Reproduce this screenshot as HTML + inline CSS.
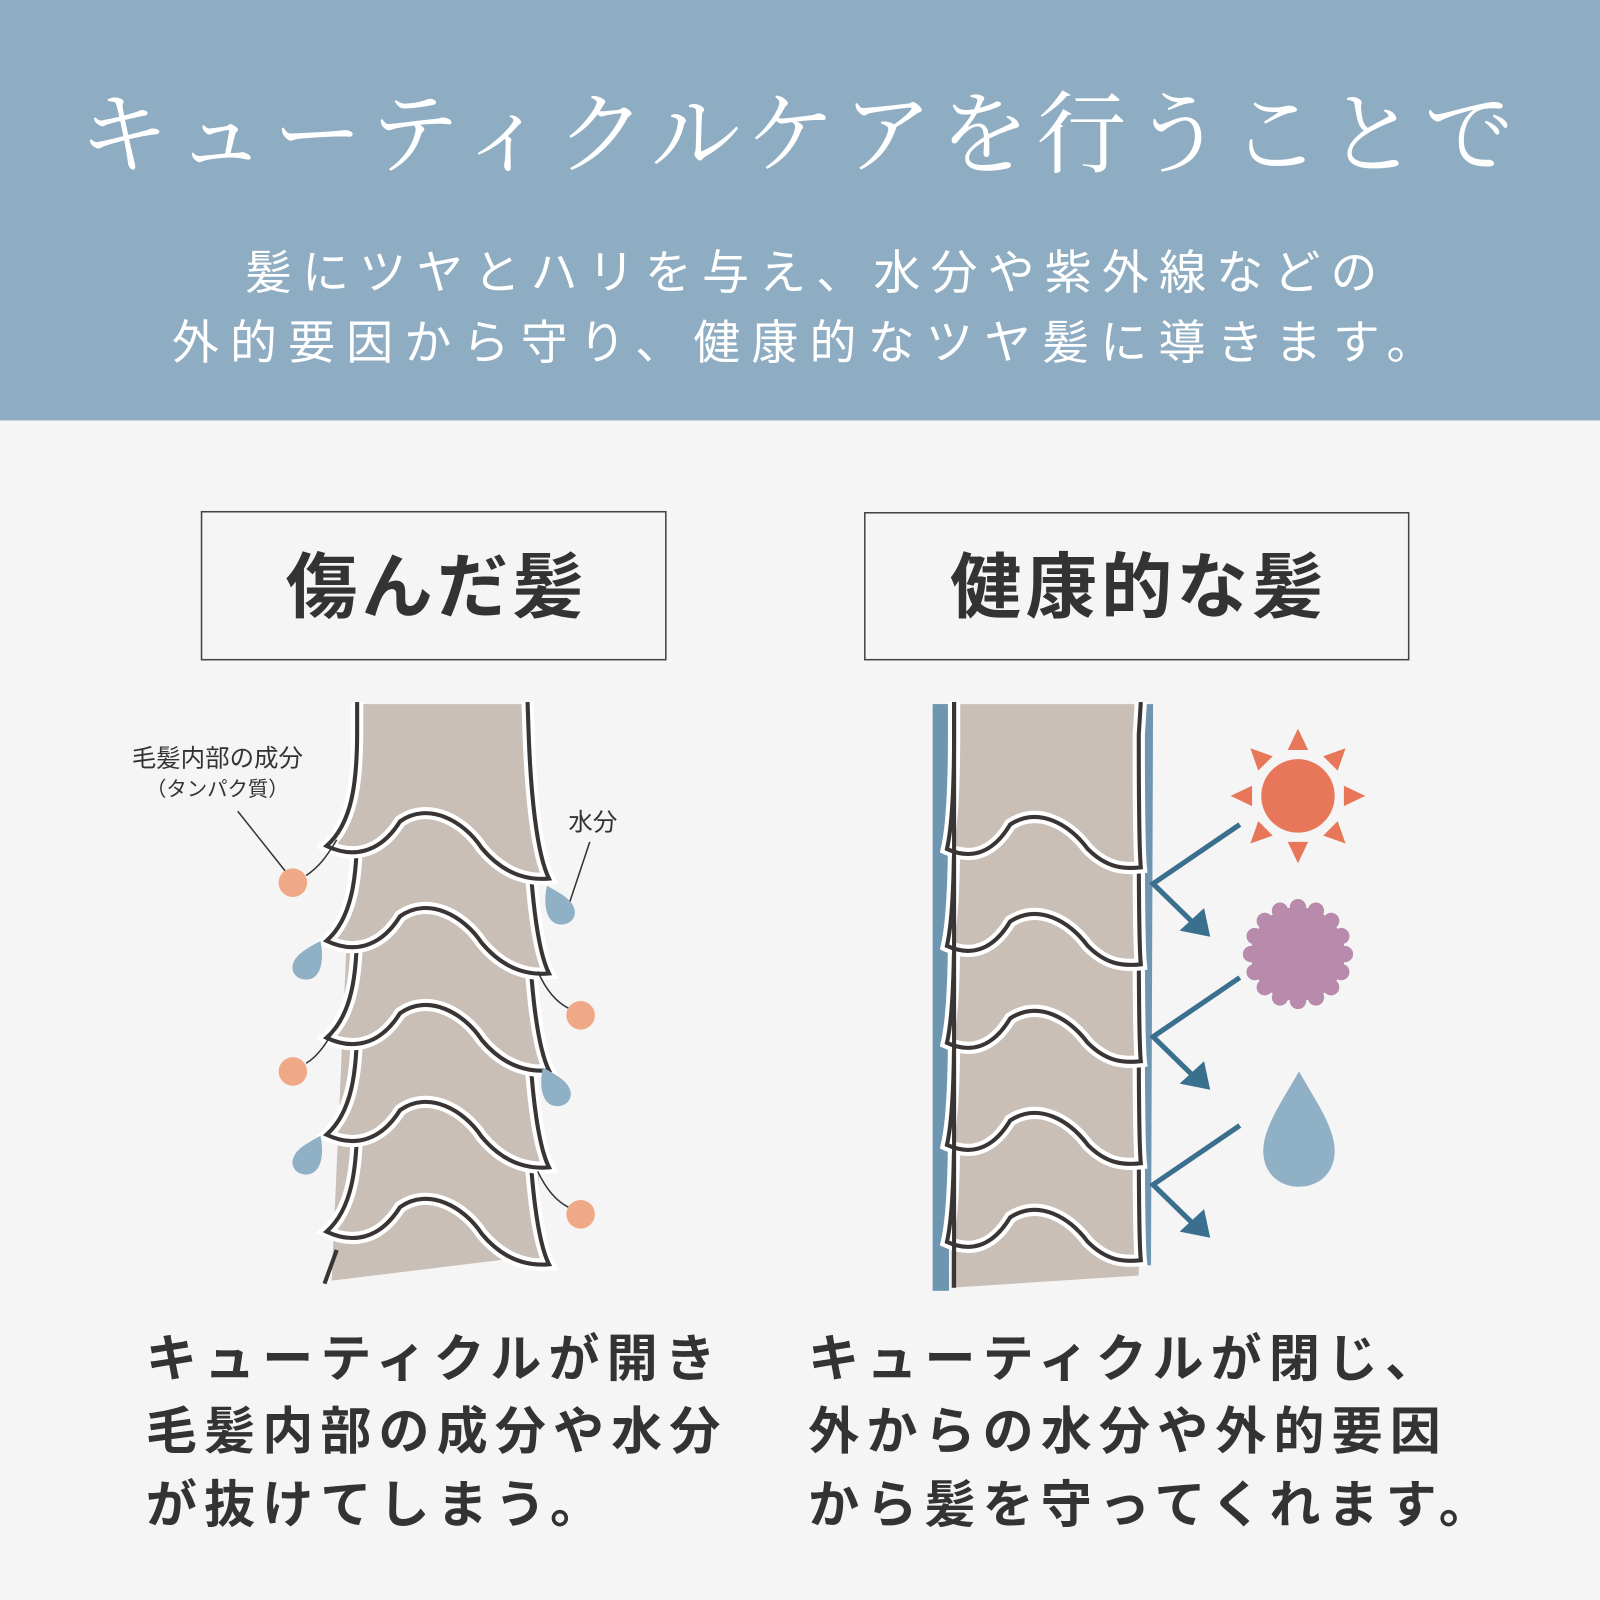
<!DOCTYPE html>
<html><head><meta charset="utf-8"><style>html,body{margin:0;padding:0;background:#f5f5f5}svg{display:block}</style></head><body>
<svg width="1600" height="1600" viewBox="0 0 1568 1568" xmlns="http://www.w3.org/2000/svg">
<defs>
<path id="fL" d="M350,-110 C350,-60 345,-20 320,2 C345,14 372,10 392,-22 C420,-42 455,-22 472,4 C492,28 515,36 538,34 C526,10 520,-50 518,-110 Z"/>
<path id="oL" d="M350,-110 C350,-60 345,-20 320,2 C345,14 372,10 392,-22 C420,-42 455,-22 472,4 C492,28 515,36 538,34 C526,10 520,-50 518,-110"/>
<path id="fR" d="M935,-110 C935,-60 933,-20 928,2 C950,12 972,8 990,-22 C1018,-40 1048,-22 1066,2 C1084,20 1100,22 1118,20 C1116,0 1116,-60 1116,-110 Z"/>
<path id="oR" d="M935,-110 C935,-60 933,-20 928,2 C950,12 972,8 990,-22 C1018,-40 1048,-22 1066,2 C1084,20 1100,22 1118,20 C1116,0 1116,-60 1116,-110"/>
<path id="oLt" d="M350,-140 L350,-110 C350,-60 345,-20 320,2 C345,14 372,10 392,-22 C420,-42 455,-22 472,4 C492,28 515,36 538,34 C526,10 520,-50 518,-110 L517,-140"/>
<path id="oRt" d="M935,-142 L935,-110 C935,-60 933,-20 928,2 C950,12 972,8 990,-22 C1018,-40 1048,-22 1066,2 C1084,20 1100,22 1118,20 C1116,0 1116,-60 1116,-110 L1118,-142"/>
<g id="scL"><use href="#fL" fill="#c9bfb6"/><use href="#oL" fill="none" stroke="#fff" stroke-width="12"/><use href="#oL" fill="none" stroke="#3a3535" stroke-width="4"/></g>
<g id="scR"><use href="#fR" fill="#c9bfb6"/><use href="#oR" fill="none" stroke="#fff" stroke-width="12"/><use href="#oR" fill="none" stroke="#3a3535" stroke-width="4"/></g>
</defs>
<rect width="1568" height="1568" fill="#f5f5f5"/>
<rect width="1568" height="412" fill="#8fadc2"/>
<text x="784" y="162" text-anchor="middle" fill="#fff" font-family="'Liberation Serif','Noto Serif CJK SC',serif" font-size="88" letter-spacing="7">キューティクルケアを行うことで</text>
<g fill="#fff" font-family="'Liberation Sans','Noto Sans CJK JP',sans-serif" font-size="46" text-anchor="middle">
<text x="800" y="283" letter-spacing="10">髪にツヤとハリを与え、水分や紫外線などの</text>
<text x="792" y="352" letter-spacing="11">外的要因から守り、健康的なツヤ髪に導きます。</text>
</g>
<rect x="197.5" y="501.5" width="455" height="145" fill="none" stroke="#444" stroke-width="1.5"/>
<rect x="847.5" y="502.5" width="533" height="144" fill="none" stroke="#444" stroke-width="1.5"/>
<g fill="#333" font-family="'Liberation Sans','Noto Sans CJK JP',sans-serif" font-weight="bold" font-size="70" text-anchor="middle" letter-spacing="4">
<text x="428" y="600">傷んだ髪</text>
<text x="1116" y="600">健康的な髪</text>
</g>
<!-- left hair -->
<path d="M350,690 L517,690 L530,1230 L325,1255 Z" fill="#c9bfb6"/>
<use href="#scL" transform="translate(0,1205)"/>
<use href="#scL" transform="translate(0,1110)"/>
<use href="#scL" transform="translate(0,1015)"/>
<use href="#scL" transform="translate(0,920)"/>
<g transform="translate(0,827)"><use href="#fL" fill="#c9bfb6"/><use href="#oLt" fill="none" stroke="#fff" stroke-width="12"/><use href="#oLt" fill="none" stroke="#3a3535" stroke-width="4"/></g>
<rect x="330" y="670" width="200" height="18" fill="#f5f5f5"/>
<path d="M330,1225 L318,1258" stroke="#3a3535" stroke-width="4"/>
<!-- right hair -->
<rect x="914" y="690" width="16" height="575" fill="#6f96b0"/>
<path d="M1118,690 L1130,690 L1128,1240 L1116,1240 Z" fill="#6f96b0"/>
<path d="M935,690 L1116,690 L1116,1250 L932,1262 Z" fill="#c9bfb6"/>
<use href="#scR" transform="translate(0,1215)"/>
<use href="#scR" transform="translate(0,1120)"/>
<use href="#scR" transform="translate(0,1020)"/>
<use href="#scR" transform="translate(0,925)"/>
<g transform="translate(0,830)"><use href="#fR" fill="#c9bfb6"/><use href="#oRt" fill="none" stroke="#fff" stroke-width="12"/><use href="#oRt" fill="none" stroke="#3a3535" stroke-width="4"/></g>
<rect x="932" y="670" width="200" height="18" fill="#f5f5f5"/>
<path d="M935,688 L935,1262" stroke="#3a3535" stroke-width="4" fill="none"/>
<!-- arrows -->
<g stroke="#3a6f8e" stroke-width="5" fill="none">
<path d="M1215,808 L1130,866 L1170,905"/>
<path d="M1215,958 L1130,1016 L1170,1055"/>
<path d="M1215,1103 L1130,1161 L1170,1200"/>
</g>
<g fill="#3a6f8e">
<path d="M1186,918 L1156,912 L1180,890 Z"/>
<path d="M1186,1068 L1156,1062 L1180,1040 Z"/>
<path d="M1186,1213 L1156,1207 L1180,1185 Z"/>
</g>
<!-- sun -->
<g fill="#e8775a" transform="translate(1272,780)">
<circle r="36"/>
<g id="ray"><path d="M-10,-45 L0,-66 L10,-45 Z"/></g>
<use href="#ray" transform="rotate(45)"/><use href="#ray" transform="rotate(90)"/><use href="#ray" transform="rotate(135)"/><use href="#ray" transform="rotate(180)"/><use href="#ray" transform="rotate(225)"/><use href="#ray" transform="rotate(270)"/><use href="#ray" transform="rotate(315)"/>
</g>
<g fill="#b88aab" transform="translate(1272,935)">
<circle r="46"/>
<g id="bump"><circle cy="-46" r="8"/></g>
<use href="#bump" transform="rotate(22.5)"/><use href="#bump" transform="rotate(45)"/><use href="#bump" transform="rotate(67.5)"/><use href="#bump" transform="rotate(90)"/><use href="#bump" transform="rotate(112.5)"/><use href="#bump" transform="rotate(135)"/><use href="#bump" transform="rotate(157.5)"/><use href="#bump" transform="rotate(180)"/><use href="#bump" transform="rotate(202.5)"/><use href="#bump" transform="rotate(225)"/><use href="#bump" transform="rotate(247.5)"/><use href="#bump" transform="rotate(270)"/><use href="#bump" transform="rotate(292.5)"/><use href="#bump" transform="rotate(315)"/><use href="#bump" transform="rotate(337.5)"/>
</g>
<path d="M1273,1050 C1290,1080 1308,1105 1308,1128 C1308,1150 1292,1163 1273,1163 C1254,1163 1238,1150 1238,1128 C1238,1105 1256,1080 1273,1050 Z" fill="#8fb0c5"/>
<!-- left annotations -->
<g font-family="'Liberation Sans','Noto Sans CJK JP',sans-serif" fill="#333" text-anchor="middle">
<text x="213" y="751" font-size="24">毛髪内部の成分</text>
<text x="213" y="780" font-size="20">（タンパク質）</text>
<text x="581" y="814" font-size="24">水分</text>
</g>
<g stroke="#333" stroke-width="1.5" fill="none">
<path d="M233,795 L283,858"/>
<path d="M578,825 L558,885"/>
<path d="M330,823 C320,840 312,850 300,858"/>
<path d="M527,952 C535,970 545,982 557,988"/>
<path d="M330,1005 C320,1022 312,1035 300,1042"/>
<path d="M527,1148 C535,1165 545,1177 557,1183"/>
</g>
<g fill="#f0a987">
<circle cx="287" cy="865" r="14"/><circle cx="569" cy="995" r="14"/><circle cx="287" cy="1050" r="14"/><circle cx="569" cy="1190" r="14"/>
</g>
<g fill="#8fb0c5">
<path d="M314,922 C318,940 315,960 300,960 C290,960 285,952 287,945 C290,935 300,930 314,922 Z"/>
<path d="M536,868 C532,886 535,906 550,906 C560,906 565,898 563,891 C560,881 550,876 536,868 Z"/>
<path d="M532,1046 C528,1064 531,1084 546,1084 C556,1084 561,1076 559,1069 C556,1059 546,1054 532,1046 Z"/>
<path d="M314,1113 C318,1131 315,1151 300,1151 C290,1151 285,1143 287,1136 C290,1126 300,1121 314,1113 Z"/>
</g>
<!-- bottom text -->
<g fill="#333" font-family="'Liberation Sans','Noto Sans CJK JP',sans-serif" font-size="50" font-weight="bold" letter-spacing="7">
<text x="143" y="1349">キューティクルが開き</text>
<text x="143" y="1420">毛髪内部の成分や水分</text>
<text x="143" y="1492">が抜けてしまう。</text>
<text x="792" y="1349">キューティクルが閉じ、</text>
<text x="792" y="1420">外からの水分や外的要因</text>
<text x="792" y="1492">から髪を守ってくれます。</text>
</g>
</svg>
</body></html>
